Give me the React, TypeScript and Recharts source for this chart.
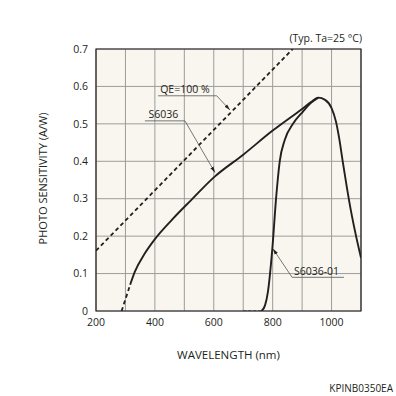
import { LineChart, Line, XAxis, YAxis, CartesianGrid, ReferenceArea, ReferenceLine, ReferenceDot } from 'recharts';

// wavelength (nm) on x, photo sensitivity (A/W) on y
const xTicks = [200, 300, 400, 500, 600, 700, 800, 900, 1000, 1100];
const yTicks = [0, 0.1, 0.2, 0.3, 0.4, 0.5, 0.6, 0.7];

const qeLine = [
  { wl: 200, v: 0.161 },
  { wl: 868, v: 0.7 },
];

const s6036Dashed = [
  { wl: 287, v: 0 },
  { wl: 316, v: 0.07 },
];

const s6036 = [
  { wl: 316, v: 0.07 },
  { wl: 332, v: 0.105 },
  { wl: 366, v: 0.154 },
  { wl: 400, v: 0.192 },
  { wl: 457, v: 0.243 },
  { wl: 524, v: 0.297 },
  { wl: 603, v: 0.359 },
  { wl: 699, v: 0.417 },
  { wl: 800, v: 0.482 },
  { wl: 900, v: 0.54 },
  { wl: 930, v: 0.558 },
  { wl: 955, v: 0.57 },
  { wl: 978, v: 0.564 },
  { wl: 1000, v: 0.542 },
  { wl: 1015, v: 0.506 },
  { wl: 1026, v: 0.461 },
  { wl: 1038, v: 0.399 },
  { wl: 1051, v: 0.335 },
  { wl: 1060, v: 0.293 },
  { wl: 1080, v: 0.212 },
  { wl: 1100, v: 0.142 },
];

const s6036_01Dashed = [
  { wl: 700, v: 0 },
  { wl: 762, v: 0 },
];

const s6036_01 = [
  { wl: 762, v: 0 },
  { wl: 774, v: 0.015 },
  { wl: 784, v: 0.052 },
  { wl: 799, v: 0.168 },
  { wl: 812, v: 0.305 },
  { wl: 824, v: 0.4 },
  { wl: 841, v: 0.457 },
  { wl: 869, v: 0.5 },
  { wl: 903, v: 0.533 },
  { wl: 930, v: 0.556 },
  { wl: 955, v: 0.57 },
];

const INK = '#231f20';
const FONT = 10.5;

const axisTitle = (text: string, kind: 'x' | 'y') => (props: any) => {
  const vb = props.viewBox;
  if (kind === 'x') {
    return (
      <text x={vb.x + vb.width / 2} y={359} textAnchor="middle" fill={INK} fontSize={11.5}>
        {text}
      </text>
    );
  }
  return (
    <text x={46.5} y={178.5} transform="rotate(-90, 46.5, 178.5)" textAnchor="middle" fill={INK} fontSize={11}>
      {text}
    </text>
  );
};

export default function App() {
  return (
    <div style={{ position: 'absolute', left: 0, top: 0, width: 396, height: 396, fontFamily: '"Open Sans", sans-serif', background: '#fff' }}>
      <LineChart width={396} height={396} margin={{ top: 49, right: 35, bottom: 55, left: 56 }}>
        <defs>
          <marker id="arrow" viewBox="0 0 10 10" refX="10" refY="5" markerWidth="6" markerHeight="6" markerUnits="userSpaceOnUse" orient="auto">
            <path d="M0,2 L10,5 L0,8 z" fill={INK} />
          </marker>
        </defs>
        <CartesianGrid stroke="#9c9c9c" strokeWidth={1} fill="#f8f6ee" />
        <XAxis
          type="number"
          dataKey="wl"
          domain={[200, 1100]}
          ticks={xTicks}
          tickFormatter={(t: number) => (t % 200 === 0 && t <= 1000 ? String(t) : '')}
          tickLine={false}
          axisLine={false}
          height={30}
          tick={{ fill: INK, fontSize: FONT }}
          allowDataOverflow
          label={{ content: axisTitle('WAVELENGTH (nm)', 'x') }}
        />
        <YAxis
          type="number"
          domain={[0, 0.7]}
          ticks={yTicks}
          tickFormatter={(t: number) => (t === 0 ? '0' : t.toFixed(1))}
          tickLine={false}
          axisLine={false}
          width={40}
          tick={{ fill: INK, fontSize: FONT }}
          allowDataOverflow
          label={{ content: axisTitle('PHOTO SENSITIVITY (A/W)', 'y') }}
        />
        <ReferenceArea x1={200} x2={1100} y1={0} y2={0.7} fill="none" stroke={INK} strokeWidth={1.2} />

        <Line data={qeLine} dataKey="v" type="linear" stroke={INK} strokeWidth={1.8} strokeDasharray="4 3" dot={false} isAnimationActive={false} />
        <Line data={s6036Dashed} dataKey="v" type="linear" stroke={INK} strokeWidth={1.8} strokeDasharray="4 3" dot={false} isAnimationActive={false} />
        <Line data={s6036} dataKey="v" type="monotone" stroke={INK} strokeWidth={1.9} dot={false} isAnimationActive={false} />
        <Line data={s6036_01Dashed} dataKey="v" type="linear" stroke={INK} strokeWidth={1} strokeDasharray="3 2" dot={false} isAnimationActive={false} />
        <Line data={s6036_01} dataKey="v" type="monotone" stroke={INK} strokeWidth={1.9} dot={false} isAnimationActive={false} />

        {/* QE=100 % callout */}
        <ReferenceLine segment={[{ x: 411, y: 0.575 }, { x: 610, y: 0.575 }]} stroke="#555" strokeWidth={0.8} />
        <ReferenceLine segment={[{ x: 610, y: 0.575 }, { x: 655, y: 0.537 }]} stroke="#555" strokeWidth={0.8} markerEnd="url(#arrow)" />
        <ReferenceDot x={502} y={0.592} r={0} fill="none" stroke="none" label={{ value: 'QE=100 %', position: 'center', fill: INK, fontSize: FONT }} />

        {/* S6036 callout */}
        <ReferenceLine segment={[{ x: 366, y: 0.508 }, { x: 502, y: 0.508 }]} stroke="#555" strokeWidth={0.8} />
        <ReferenceLine segment={[{ x: 502, y: 0.508 }, { x: 604, y: 0.37 }]} stroke="#555" strokeWidth={0.8} markerEnd="url(#arrow)" />
        <ReferenceDot x={429} y={0.525} r={0} fill="none" stroke="none" label={{ value: 'S6036', position: 'center', fill: INK, fontSize: FONT }} />

        {/* S6036-01 callout */}
        <ReferenceLine segment={[{ x: 866, y: 0.09 }, { x: 1042, y: 0.09 }]} stroke="#555" strokeWidth={0.8} />
        <ReferenceLine segment={[{ x: 866, y: 0.09 }, { x: 801, y: 0.166 }]} stroke="#555" strokeWidth={0.8} markerEnd="url(#arrow)" />
        <ReferenceDot x={949} y={0.106} r={0} fill="none" stroke="none" label={{ value: 'S6036-01', position: 'center', fill: INK, fontSize: FONT }} />
      </LineChart>

      <div style={{ position: 'absolute', right: 34, top: 31.5, fontSize: FONT, lineHeight: '12px', color: INK, whiteSpace: 'nowrap' }}>
        (Typ. Ta=25 °C)
      </div>
      <div style={{ position: 'absolute', right: 3, top: 381.5, fontSize: 10, lineHeight: '12px', color: INK, whiteSpace: 'nowrap' }}>
        KPINB0350EA
      </div>
    </div>
  );
}
